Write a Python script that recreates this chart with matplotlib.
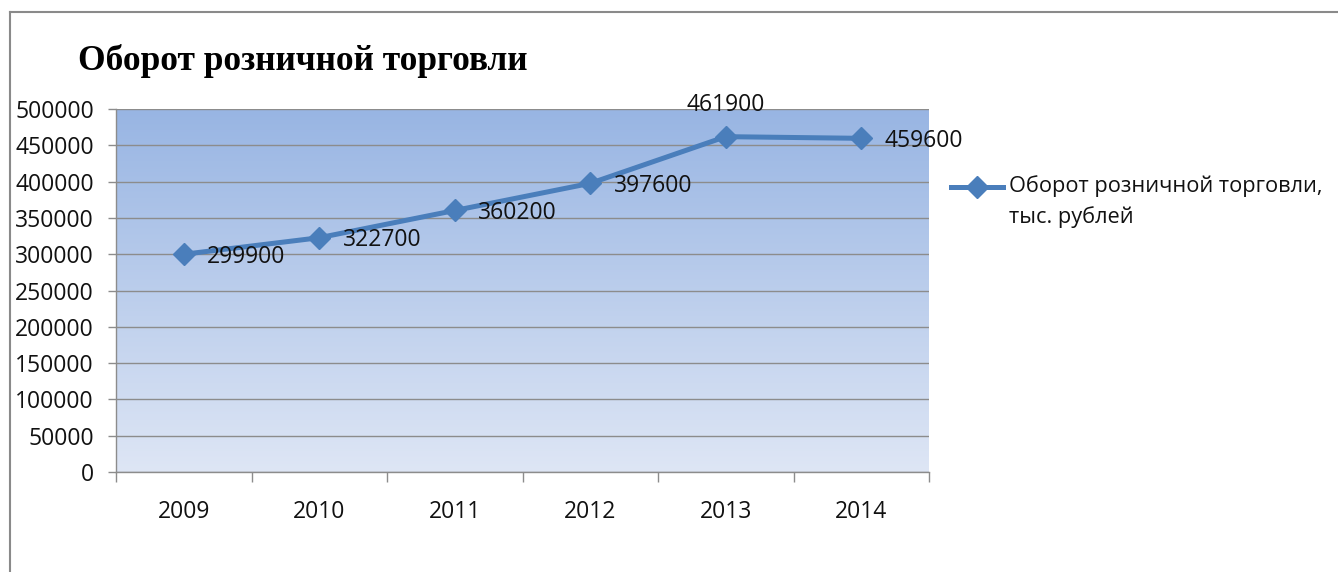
import numpy as np
import matplotlib

matplotlib.use("agg")
import matplotlib.pyplot as plt
from matplotlib.lines import Line2D

years = ["2009", "2010", "2011", "2012", "2013", "2014"]
turnover = [299900, 322700, 360200, 397600, 461900, 459600]
label_pos = ["right", "right", "right", "right", "above", "right"]
y_ticks = list(range(0, 500001, 50000))
title = "Оборот розничной торговли"
series_name = "Оборот розничной торговли,\nтыс. рублей"

W, H = 1338, 572
blue = "#4a7ebb"
grid_c = "#8c8c8c"
font = "Open Sans"
fs = 16.5

plt.rcParams["font.family"] = [font, "DejaVu Sans"]

fig = plt.figure(figsize=(W / 100, H / 100), dpi=100)
ax = fig.add_axes([116 / W, 1 - 472 / H, (929 - 116) / W, (472 - 109) / H])

# plot area gradient (dark blue top -> pale bottom)
top = np.array([152, 181, 227]) / 255
bot = np.array([222, 230, 245]) / 255
t = np.linspace(0, 1, 256)[:, None]
grad = (top * (1 - t) + bot * t)[:, None, :]
ax.imshow(grad, extent=[0, 1, 0, 1], transform=ax.transAxes,
          aspect="auto", zorder=0, interpolation="bilinear")

x = np.arange(len(years))
ax.plot(x, turnover, color=blue, lw=3.6, marker="D", ms=11,
        mec=blue, mfc=blue, zorder=3, solid_joinstyle="round")

for xi, v, pos in zip(x, turnover, label_pos):
    if pos == "above":
        ax.annotate(str(v), (xi, v), xytext=(0, 14), textcoords="offset points",
                    ha="center", va="bottom", fontsize=fs, color="#111111",
                    zorder=4)
    else:
        ax.annotate(str(v), (xi, v), xytext=(17, -2), textcoords="offset points",
                    ha="left", va="center", fontsize=fs, color="#111111",
                    zorder=4)

ax.set_xlim(-0.5, len(years) - 0.5)
ax.set_ylim(0, 500000)
ax.set_yticks(y_ticks)
ax.set_yticklabels([str(v) for v in y_ticks])
ax.set_xticks(np.arange(len(years) + 1) - 0.5)
ax.set_xticklabels([])
ax.set_xticks(x, minor=True)
ax.set_xticklabels(years, minor=True)

ax.tick_params(axis="y", length=6, width=1, color=grid_c, pad=10,
               labelsize=fs, labelcolor="#111111")
ax.tick_params(axis="x", which="major", length=7, width=1, color=grid_c)
ax.tick_params(axis="x", which="minor", length=0, pad=20,
               labelsize=fs, labelcolor="#111111")

ax.grid(axis="y", color=grid_c, lw=1)
ax.set_axisbelow(True)
for s in ["top", "right"]:
    ax.spines[s].set_visible(False)
for s in ["left", "bottom"]:
    ax.spines[s].set_color(grid_c)
    ax.spines[s].set_linewidth(1)

fig.text(78 / W, 1 - 70 / H, title, fontsize=25.5, fontweight="bold",
         family=["Liberation Serif", "DejaVu Serif"], va="baseline", ha="left")

# legend drawn by hand so the marker sits on the first line
ly = 1 - 187 / H
fig.add_artist(Line2D([951 / W, 977 / W, 1003 / W], [ly, ly, ly], color=blue,
                      lw=3.6, marker="D", ms=11, markevery=[1]))
fig.text(1009 / W, ly + 12 / H, series_name, fontsize=15.7, va="top", ha="left",
         color="#111111", linespacing=1.55)

# outer chart border (left and top)
fig.add_artist(Line2D([10 / W, 10 / W], [0, 1 - 12 / H], color="#8a8a8a", lw=1.5))
fig.add_artist(Line2D([10 / W, 1], [1 - 12 / H, 1 - 12 / H], color="#8a8a8a", lw=1.5))

fig.savefig("out.png", dpi=100)
